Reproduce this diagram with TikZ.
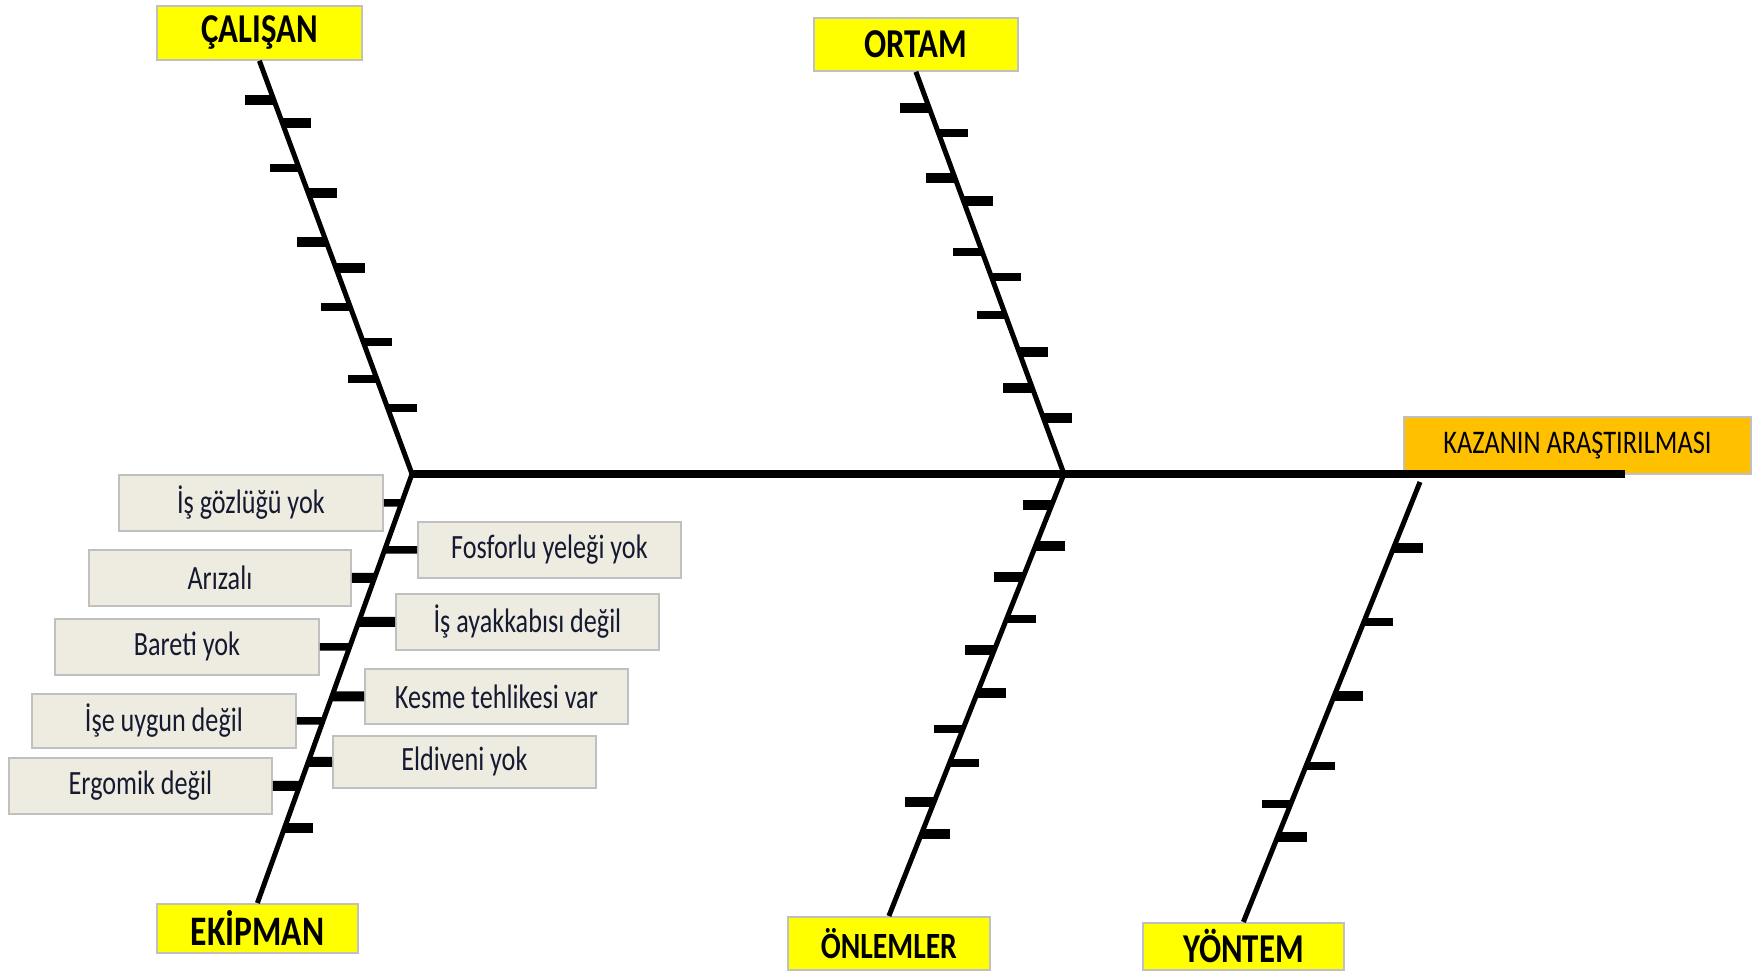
\documentclass[tikz,border=0pt]{standalone}
\usepackage{fontspec}
\setmainfont{Carlito}
\newfontfamily\lblfont[FakeStretch=0.77]{Carlito}
\newfontfamily\ttlfont[FakeStretch=0.8]{Carlito}
\definecolor{yel}{HTML}{FFFF00}
\definecolor{org}{HTML}{FFC000}
\definecolor{boxgray}{HTML}{C0C0C0}
\definecolor{lblfill}{HTML}{EEECE1}
\definecolor{lbltext}{HTML}{161A30}
\tikzset{
  ttl/.style={draw=boxgray, line width=1.8pt, fill=yel, inner sep=0pt, anchor=north west},
  lbl/.style={draw=boxgray, line width=1.8pt, fill=lblfill, inner sep=0pt, anchor=north west,
    minimum width=263pt, minimum height=55pt, text=lbltext,
    font=\lblfont\fontsize{34}{40}\selectfont},
  spine/.style={line width=5pt},
  mainline/.style={line width=8pt},
  tkA/.style={line width=10pt},
  tkB/.style={line width=7.5pt},
}
\newcommand\tickl[4]{\draw[#4] (intersection of #1--#2 and 0,#3--100,#3) -- ++(-29,0);}
\newcommand\tickr[4]{\draw[#4] (intersection of #1--#2 and 0,#3--100,#3) -- ++(29,0);}
\begin{document}
\begin{tikzpicture}[x=1pt,y=-1pt]
\fill[white] (0,0) rectangle (1756,971);
\useasboundingbox (0,0) rectangle (1756,971);

% category boxes
\node[ttl, minimum width=205pt, minimum height=54pt, font=\ttlfont\bfseries\fontsize{41}{48}\selectfont] (cal) at (156,5) {ÇALIŞAN};
\node[ttl, minimum width=204pt, minimum height=53pt, font=\ttlfont\bfseries\fontsize{41}{48}\selectfont] (ort) at (813,17) {ORTAM};
\node[ttl, minimum width=201pt, minimum height=49pt, font=\ttlfont\bfseries\fontsize{42}{48}\selectfont] (ekp) at (156,903) {EKİPMAN};
\node[ttl, minimum width=202pt, minimum height=53pt, font=\ttlfont\bfseries\fontsize{37}{44}\selectfont] (onl) at (787,916) {ÖNLEMLER};
\node[ttl, minimum width=201pt, minimum height=47pt, font=\ttlfont\bfseries\fontsize{41}{46}\selectfont] (yon) at (1142,922) {YÖNTEM};
\node[ttl, fill=org, minimum width=347pt, minimum height=57pt, font=\ttlfont\fontsize{33}{40}\selectfont] (kaz) at (1403,416) {KAZANIN ARAŞTIRILMASI};

% junctions
\coordinate (J1) at (412,474);
\coordinate (J2) at (1064,474);
\coordinate (J3) at (1420,482);
\coordinate (mainend) at (1625,474);

% main line and spines
\draw[mainline] (J1) -- (mainend);
\draw[spine] (cal.south) -- (J1);
\draw[spine] (ort.south) -- (J2);
\draw[spine] (J1) -- (ekp.north);
\draw[spine] (J2) -- (onl.north);
\draw[spine] (J3) -- (yon.north);

% ÇALIŞAN ticks
\tickl{cal.south}{J1}{100}{tkA}
\tickr{cal.south}{J1}{123}{tkA}
\tickl{cal.south}{J1}{168}{tkB}
\tickr{cal.south}{J1}{193}{tkA}
\tickl{cal.south}{J1}{242}{tkA}
\tickr{cal.south}{J1}{268}{tkA}
\tickl{cal.south}{J1}{307}{tkB}
\tickr{cal.south}{J1}{342}{tkB}
\tickl{cal.south}{J1}{379}{tkB}
\tickr{cal.south}{J1}{408}{tkB}

% ORTAM ticks
\tickl{ort.south}{J2}{108}{tkA}
\tickr{ort.south}{J2}{133}{tkB}
\tickl{ort.south}{J2}{178}{tkA}
\tickr{ort.south}{J2}{201}{tkA}
\tickl{ort.south}{J2}{252}{tkB}
\tickr{ort.south}{J2}{277}{tkB}
\tickl{ort.south}{J2}{315}{tkB}
\tickr{ort.south}{J2}{352}{tkA}
\tickl{ort.south}{J2}{388}{tkA}
\tickr{ort.south}{J2}{418}{tkA}

% ÖNLEMLER ticks
\tickl{J2}{onl.north}{505}{tkA}
\tickr{J2}{onl.north}{546}{tkA}
\tickl{J2}{onl.north}{577}{tkA}
\tickr{J2}{onl.north}{619}{tkB}
\tickl{J2}{onl.north}{650}{tkA}
\tickr{J2}{onl.north}{693}{tkA}
\tickl{J2}{onl.north}{729}{tkB}
\tickr{J2}{onl.north}{763}{tkB}
\tickl{J2}{onl.north}{802}{tkA}
\tickr{J2}{onl.north}{834}{tkA}

% YÖNTEM ticks
\tickr{J3}{yon.north}{548}{tkA}
\tickr{J3}{yon.north}{622}{tkB}
\tickr{J3}{yon.north}{696}{tkA}
\tickr{J3}{yon.north}{766}{tkB}
\tickl{J3}{yon.north}{804}{tkB}
\tickr{J3}{yon.north}{837}{tkA}

% EKİPMAN labels
\node[lbl, minimum width=264pt, minimum height=56pt] (l1) at (118,474) {İş gözlüğü yok};
\node[lbl, minimum width=262pt, minimum height=56pt] (l2) at (88,549) {Arızalı};
\node[lbl, minimum width=264pt, minimum height=56pt] (l3) at (54,618) {Bareti yok};
\node[lbl, minimum width=264pt, minimum height=54pt] (l4) at (31,693) {İşe uygun değil};
\node[lbl, minimum width=263pt, minimum height=56pt] (l5) at (8,757) {Ergomik değil};
\node[lbl, minimum width=263pt, minimum height=56pt] (r1) at (417,521) {Fosforlu yeleği yok};
\node[lbl, minimum width=263pt, minimum height=56pt] (r2) at (395,593) {İş ayakkabısı değil};
\node[lbl, minimum width=263pt, minimum height=55pt] (r3) at (364,668) {Kesme tehlikesi var};
\node[lbl, minimum width=263pt, minimum height=52pt] (r4) at (332,735) {Eldiveni yok};

\draw[tkB] (l1.east) -- (intersection of l1.east--l1.west and J1--ekp.north);
\draw[tkA] (l2.east) -- (intersection of l2.east--l2.west and J1--ekp.north);
\draw[tkB] (l3.east) -- (intersection of l3.east--l3.west and J1--ekp.north);
\draw[tkB] (l4.east) -- (intersection of l4.east--l4.west and J1--ekp.north);
\draw[tkA] (l5.east) -- (intersection of l5.east--l5.west and J1--ekp.north);
\draw[tkB] (intersection of r1.west--r1.east and J1--ekp.north) -- (r1.west);
\draw[tkA] (intersection of r2.west--r2.east and J1--ekp.north) -- (r2.west);
\draw[tkA] (intersection of r3.west--r3.east and J1--ekp.north) -- (r3.west);
\draw[tkA] (intersection of r4.west--r4.east and J1--ekp.north) -- (r4.west);
\tickr{J1}{ekp.north}{828}{tkA}
\end{tikzpicture}
\end{document}
